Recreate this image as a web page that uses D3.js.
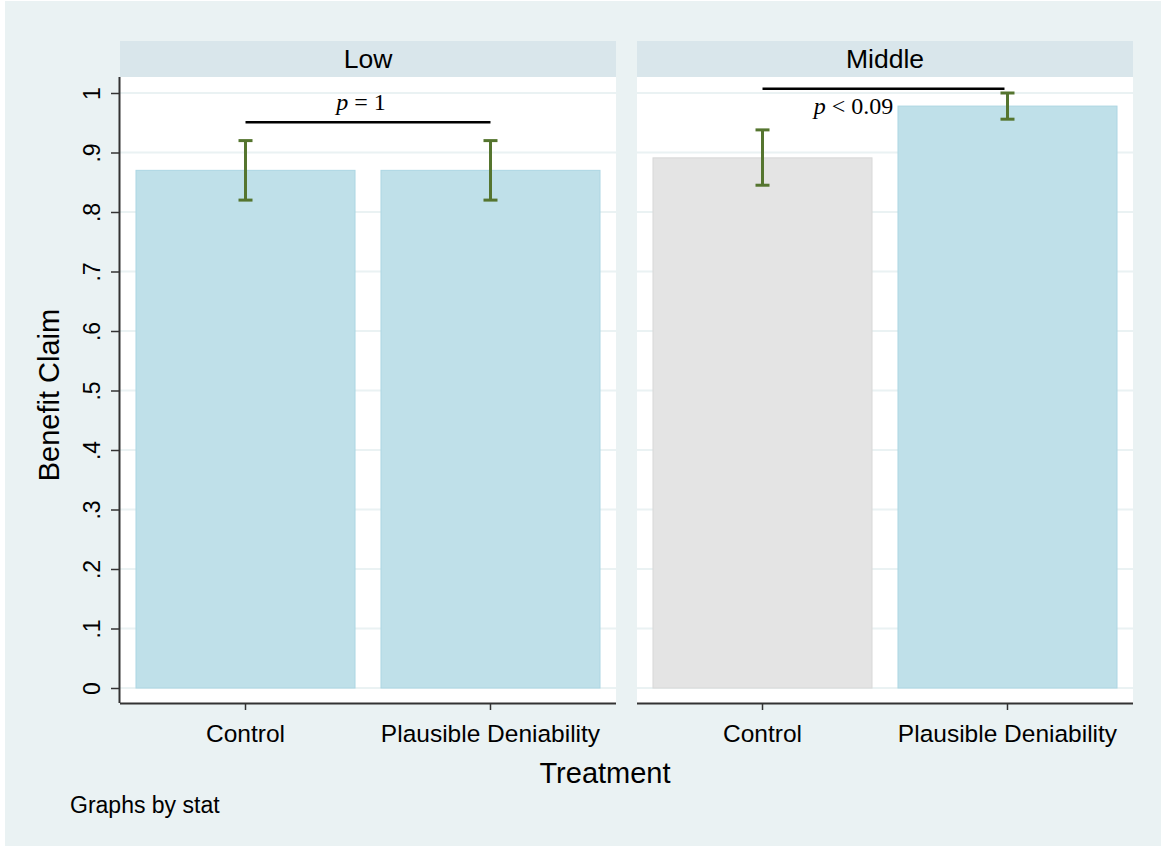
<!DOCTYPE html>
<html lang="en">
  <head>
    <meta charset="UTF-8" />
    <title>benefit-claim</title>
    <style>
      body { margin: 0; background: #fff; }
      text { font-family: "Liberation Sans", Arial, sans-serif; fill: #000; }
      .serif { font-family: "Liberation Serif", "Times New Roman", serif; }
    </style>
  </head>
  <body>
    <svg width="1166" height="849" id="svg"></svg>
    <script src="https://cdnjs.cloudflare.com/ajax/libs/d3/7.8.5/d3.min.js"></script>
    <script>
      // data
      const panels = ["Low", "Middle"];
      const treatments = ["Control", "Plausible Deniability"];
      const means = [[0.87, 0.87], [0.891, 0.978]];
      const lower = [[0.82, 0.82], [0.845, 0.956]];
      const upper = [[0.92, 0.92], [0.938, 1.0]];
      const barColors = [["#bfe0e9", "#bfe0e9"], ["#e4e4e4", "#bfe0e9"]];
      const barStroke = [["#acd6e3", "#acd6e3"], ["#d8d8d8", "#acd6e3"]];
      const pLabels = ["= 1", "< 0.09"];
      const bracketY = [0.951, 1.007];
      const yTicks = [0, 0.1, 0.2, 0.3, 0.4, 0.5, 0.6, 0.7, 0.8, 0.9, 1];

      const svg = d3.select("#svg");
      svg.append("rect").attr("x", 5).attr("y", 1).attr("width", 1156).attr("height", 845)
        .attr("fill", "#eaf2f3");

      const panelX = [120, 637];
      const panelW = 496;
      const plotTop = 77, plotBottom = 703;
      const y = d3.scaleLinear().domain([0, 1]).range([688, 93]);
      const fmt = d => d === 0 ? "0" : d === 1 ? "1" : d3.format(".1f")(d).replace(/^0/, "");

      panels.forEach((name, pi) => {
        const g = svg.append("g").attr("transform", `translate(${panelX[pi]},0)`);
        const x = d3.scaleBand().domain(treatments).range([16, panelW - 16]).paddingInner(0.106).paddingOuter(0);

        // header strip
        g.append("rect").attr("x", 0).attr("y", 41).attr("width", panelW).attr("height", 36).attr("fill", "#d9e6eb");
        g.append("text").attr("x", panelW / 2).attr("y", 68).attr("text-anchor", "middle")
          .attr("font-size", 26.5).text(name);

        // plot region
        g.append("rect").attr("x", 0).attr("y", plotTop).attr("width", panelW).attr("height", plotBottom - plotTop).attr("fill", "#fff");

        g.selectAll("line.grid").data(yTicks).join("line").attr("class", "grid")
          .attr("x1", 0).attr("x2", panelW)
          .attr("y1", d => y(d)).attr("y2", d => y(d))
          .attr("stroke", "#eaf2f3").attr("stroke-width", 2);

        // bars
        g.selectAll("rect.bar").data(treatments).join("rect").attr("class", "bar")
          .attr("x", d => x(d)).attr("width", x.bandwidth())
          .attr("y", (d, i) => y(means[pi][i]))
          .attr("height", (d, i) => y(0) - y(means[pi][i]))
          .attr("fill", (d, i) => barColors[pi][i])
          .attr("stroke", (d, i) => barStroke[pi][i]).attr("stroke-width", 1);

        // error bars
        const cx = d => x(d) + x.bandwidth() / 2;
        const eg = g.append("g").attr("stroke", "#55752f").attr("stroke-width", 3);
        treatments.forEach((t, i) => {
          eg.append("line").attr("x1", cx(t)).attr("x2", cx(t))
            .attr("y1", y(lower[pi][i])).attr("y2", y(upper[pi][i]));
          [lower[pi][i], upper[pi][i]].forEach(v => {
            eg.append("line").attr("x1", cx(t) - 7).attr("x2", cx(t) + 7)
              .attr("y1", y(v)).attr("y2", y(v));
          });
        });

        // significance bracket
        const x1 = cx(treatments[0]), x2 = cx(treatments[1]) - (pi === 1 ? 3 : 0);
        g.append("line").attr("x1", x1).attr("x2", x2)
          .attr("y1", y(bracketY[pi])).attr("y2", y(bracketY[pi]))
          .attr("stroke", "#000").attr("stroke-width", 2.5);
        const pt = g.append("text").attr("class", "serif").attr("font-size", 24)
          .attr("text-anchor", "middle")
          .attr("x", pi === 0 ? (x1 + x2) / 2 - 7 : (x1 + x2) / 2 - 30)
          .attr("y", pi === 0 ? 110 : 114);
        pt.append("tspan").attr("font-style", "italic").text("p");
        pt.append("tspan").text(" " + pLabels[pi]);

        // x axis
        const xAxis = d3.axisBottom(x).tickSize(7).tickPadding(15);
        const ax = g.append("g").attr("transform", `translate(0,${plotBottom})`).call(xAxis);
        ax.select(".domain").attr("d", `M0,0.5H${panelW}`).attr("stroke", "#333").attr("stroke-width", 2);
        ax.selectAll(".tick line").attr("stroke", "#333").attr("stroke-width", 1.5);
        ax.selectAll(".tick text").attr("font-size", 24.5).attr("fill", "#000")
          .style("font-family", "'Liberation Sans', Arial, sans-serif");

        // y axis on first panel only
        if (pi === 0) {
          const yAxis = d3.axisLeft(y).tickValues(yTicks).tickFormat(fmt).tickSize(9).tickPadding(0);
          const ay = g.append("g").call(yAxis);
          ay.select(".domain").attr("d", `M-0.5,${plotTop}V${plotBottom}`).attr("stroke", "#333").attr("stroke-width", 2);
          ay.selectAll(".tick line").attr("stroke", "#333").attr("stroke-width", 1.5);
          ay.selectAll(".tick text").attr("font-size", 23).attr("fill", "#000")
            .style("font-family", "'Liberation Sans', Arial, sans-serif")
            .attr("x", 0).attr("y", 0).attr("dy", null)
            .attr("text-anchor", "middle")
            .attr("transform", "translate(-20,0) rotate(-90)");
        }
      });

      svg.append("text").attr("x", 605).attr("y", 783).attr("text-anchor", "middle")
        .attr("font-size", 29).text("Treatment");
      svg.append("text").attr("transform", "translate(59,395) rotate(-90)").attr("text-anchor", "middle")
        .attr("font-size", 29).text("Benefit Claim");
      svg.append("text").attr("x", 70).attr("y", 813).attr("font-size", 23).text("Graphs by stat");
    </script>
  </body>
</html>
